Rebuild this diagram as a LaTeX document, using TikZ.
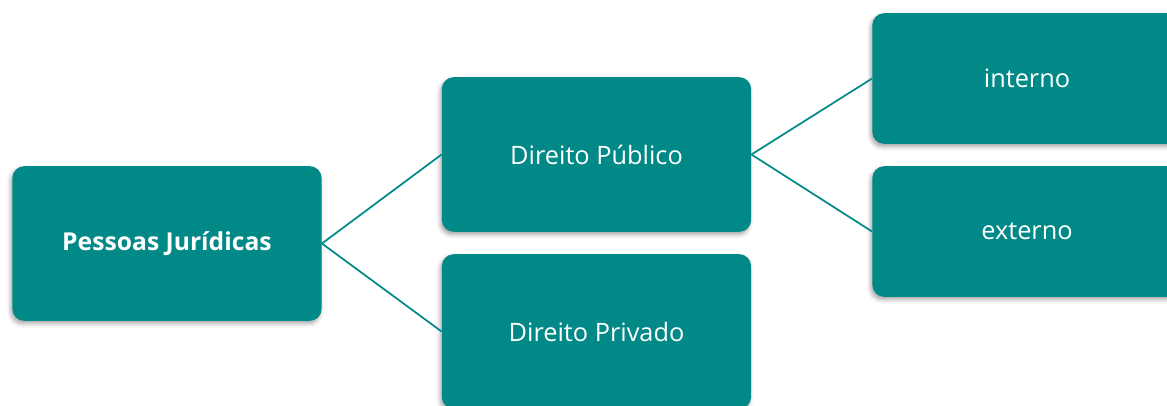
\documentclass[tikz,border=0pt]{standalone}
\usepackage{fontspec}
\setmainfont{Open Sans}
\usetikzlibrary{shadows.blur}
\definecolor{tealbox}{RGB}{0,137,135}
\begin{document}
\begin{tikzpicture}[x=0.75pt,y=0.75pt,yscale=-1,xscale=1]
\tikzset{
  box/.style={fill=tealbox, rounded corners=9pt, inner sep=0pt,
    text=white, font=\fontsize{19}{23}\selectfont,
    minimum width=232pt, minimum height=116pt,
    blur shadow={shadow xshift=-1.2pt, shadow yshift=-2.2pt, shadow blur radius=3pt, shadow opacity=35}},
  link/.style={draw=tealbox, line width=1.3pt}
}
\useasboundingbox (0,0) rectangle (1167,405);

%Boxes
\node [box, font=\fontsize{18.5}{22}\selectfont\bfseries] (pj) at (167,243.5) {Pessoas Jurídicas};
\node [box] (pub) at (596.5,154.5) {Direito Público};
\node [box] (priv) at (596.5,331.5) {Direito Privado};
\node [box, minimum height=98pt] (int) at (1027,78.5) {interno};
\node [box, minimum height=98pt] (ext) at (1027,231.5) {externo};

%Straight Lines
\draw [link] (pj.east) -- (pub.west);
\draw [link] (pj.east) -- (priv.west);
\draw [link] (pub.east) -- (int.west);
\draw [link] (pub.east) -- (ext.west);

\end{tikzpicture}
\end{document}
